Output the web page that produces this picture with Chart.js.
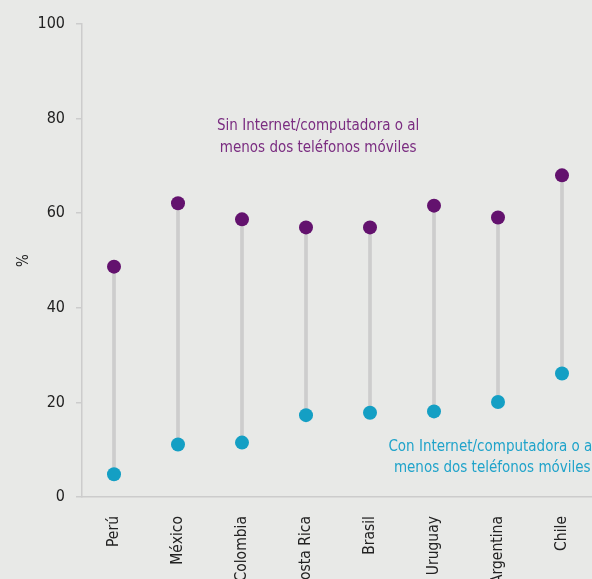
<!DOCTYPE html>
<html lang="es">
<head>
  <meta charset="UTF-8">
  <title>Hogares sin y con Internet/computadora</title>
  <script src="https://cdn.jsdelivr.net/npm/chart.js"></script>
  <style>
    html, body {
      margin: 0;
      padding: 0;
      overflow: hidden;
      background-color: #e8e9e7;
    }
    .wrap {
      position: relative;
      width: 601px;
      height: 579px;
    }
  </style>
</head>
<body>
  <div class="wrap">
    <canvas id="chart"></canvas>
  </div>

  <script>
    // data
    const countries = ['Perú', 'México', 'Colombia', 'Costa Rica', 'Brasil', 'Uruguay', 'Argentina', 'Chile'];
    const sinInternet = [48.7, 62.1, 58.7, 57.0, 57.0, 61.6, 59.1, 68.0];
    const conInternet = [4.8, 11.1, 11.5, 17.3, 17.8, 18.1, 20.1, 26.1];
    const sinLabel = ['Sin Internet/computadora o al', 'menos dos teléfonos móviles'];
    const conLabel = ['Con Internet/computadora o al', 'menos dos teléfonos móviles'];

    const FONT = '"Liberation Sans Narrow", "DejaVu Sans Condensed", sans-serif';
    const PURPLE = '#63126e';
    const TEAL = '#149fc4';

    // gray connectors between the two dots
    const ranges = countries.map((c, i) => [conInternet[i], sinInternet[i]]);

    const labelPlugin = {
      id: 'seriesLabels',
      afterDraw(chart) {
        const ctx = chart.ctx;
        const x = chart.scales.x;
        const y = chart.scales.y;
        ctx.save();
        ctx.font = '15px ' + FONT;
        ctx.textAlign = 'center';
        ctx.textBaseline = 'middle';

        ctx.fillStyle = '#7a2c80';
        let px = x.getPixelForValue(3.19);
        let py = y.getPixelForValue(78.4);
        sinLabel.forEach((t, i) => ctx.fillText(t, px, py + i * 21.5));

        ctx.fillStyle = '#1fa3ca';
        px = x.getPixelForValue(5.91);
        py = y.getPixelForValue(10.5);
        conLabel.forEach((t, i) => ctx.fillText(t, px, py + i * 21));
        ctx.restore();
      }
    };

    new Chart(document.getElementById('chart'), {
      type: 'bar',
      data: {
        labels: countries,
        datasets: [
          {
            type: 'line',
            label: 'Sin Internet',
            data: sinInternet,
            showLine: false,
            pointRadius: 7,
            pointBackgroundColor: PURPLE,
            pointBorderWidth: 0,
            order: 1
          },
          {
            type: 'line',
            label: 'Con Internet',
            data: conInternet,
            showLine: false,
            pointRadius: 7,
            pointBackgroundColor: TEAL,
            pointBorderWidth: 0,
            order: 1
          },
          {
            label: 'rango',
            data: ranges,
            backgroundColor: '#cdcdcd',
            barThickness: 3,
            order: 2
          }
        ]
      },
      options: {
        responsive: true,
        maintainAspectRatio: false,
        animation: false,
        layout: { padding: { top: 24, right: 0, left: 0, bottom: 0 } },
        plugins: {
          legend: { display: false },
          tooltip: { enabled: false }
        },
        scales: {
          x: {
            grid: { display: false },
            border: { color: '#cccccc', width: 1.5 },
            ticks: {
              color: '#222',
              font: { family: FONT, size: 15.5 },
              minRotation: 90,
              maxRotation: 90,
              padding: 11
            },
            afterFit(scale) { scale.height = 82; }
          },
          y: {
            min: 0,
            max: 100,
            grid: {
              drawOnChartArea: false,
              tickLength: 6,
              color: '#cccccc',
              lineWidth: 1.5
            },
            border: { color: '#cccccc', width: 1.5 },
            ticks: {
              stepSize: 20,
              color: '#222',
              font: { family: FONT, size: 16 },
              padding: 11
            },
            title: {
              display: true,
              text: '%',
              color: '#222',
              font: { family: FONT, size: 15 },
              padding: { top: 15, bottom: 0 }
            },
            afterFit(scale) { scale.width = 82; }
          }
        }
      },
      plugins: [labelPlugin]
    });
  </script>
</body>
</html>
